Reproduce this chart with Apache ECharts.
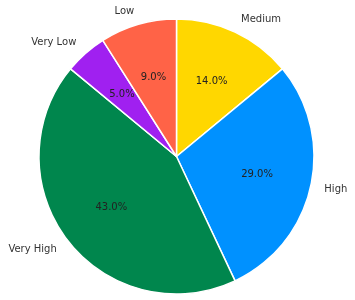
<!DOCTYPE html>
<html>
<head>
<meta charset="utf-8">
<script src="https://cdn.jsdelivr.net/npm/echarts@6/dist/echarts.min.js"></script>
<style>html,body{margin:0;padding:0;background:#fff}#c{width:355px;height:300px}</style>
</head>
<body>
<div id="c"></div>
<script>
const categories = ["Medium", "High", "Very High", "Very Low", "Low"];
const values = [14, 29, 43, 5, 9];
const colors = ["#FFD700", "#0091FF", "#00864D", "#A020F0", "#FF6347"];

const data = categories.map((c, i) => ({ name: c, value: values[i], itemStyle: { color: colors[i] } }));
const chart = echarts.init(document.getElementById('c'));
const R = 137.5;
const center = [176.5, 156.5];
chart.setOption({
  animation: false,
  series: [
    {
      type: 'pie',
      center: center,
      radius: [0, R],
      startAngle: 90,
      clockwise: true,
      avoidLabelOverlap: false,
      data: data,
      itemStyle: { borderColor: '#fff', borderWidth: 1.5 },
      label: {
        show: true,
        position: 'outside',
        formatter: '{b}',
        fontFamily: 'DejaVu Sans',
        fontSize: 10,
        color: '#333',
        distanceToLabelLine: 0
      },
      labelLine: { show: false, length: 14, length2: 0 },
      emphasis: { disabled: true }
    },
    {
      type: 'pie',
      center: center,
      radius: [R * 0.2 - 6, R],
      startAngle: 90,
      clockwise: true,
      silent: true,
      avoidLabelOverlap: false,
      data: data.map(d => ({ name: d.name, value: d.value, itemStyle: { color: 'rgba(0,0,0,0)' } })),
      itemStyle: { borderWidth: 0 },
      label: {
        show: true,
        position: 'inside',
        formatter: p => p.value.toFixed(1) + '%',
        fontFamily: 'DejaVu Sans',
        fontSize: 10,
        color: '#222'
      },
      labelLine: { show: false },
      emphasis: { disabled: true }
    }
  ]
});
</script>
</body>
</html>
